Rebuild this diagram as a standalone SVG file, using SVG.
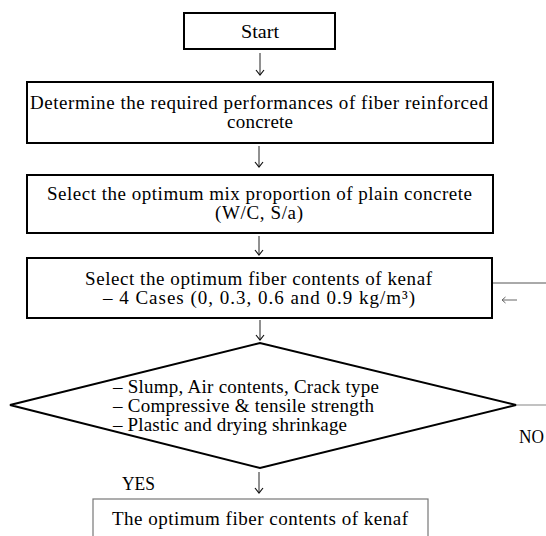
<svg xmlns="http://www.w3.org/2000/svg" width="546" height="536" viewBox="0 0 546 536">
<style>
.box{fill:#fff;stroke:#000;stroke-width:2}
.fin{fill:#fff;stroke:#777;stroke-width:1.2}
.t{font-family:"Liberation Serif","Times New Roman",serif;font-size:19px;fill:#000}
.c{text-anchor:middle}
.arr{stroke:#222;stroke-width:1;fill:none;marker-end:url(#ah)}
.ln{stroke:#555;stroke-width:1;fill:none}
.gl{stroke:#999;stroke-width:1.2;fill:none}
</style>
<defs>
<marker id="ah" markerWidth="10" markerHeight="10" refX="8" refY="5" orient="auto" markerUnits="userSpaceOnUse" viewBox="0 0 10 10">
<path d="M3,1 L8,5 L3,9" fill="none" stroke="#111" stroke-width="1.2"/>
</marker>
<marker id="ahl" markerWidth="10" markerHeight="10" refX="8" refY="5" orient="auto" markerUnits="userSpaceOnUse" viewBox="0 0 10 10">
<path d="M4.5,2 L8,5 L4.5,8" fill="none" stroke="#666" stroke-width="1"/>
</marker>
</defs>
<rect width="546" height="536" fill="#fff"/>
<g id="connectors">
<line class="arr" x1="260" y1="53" x2="260" y2="75"/>
<line class="arr" x1="259" y1="146" x2="259" y2="167"/>
<line class="arr" x1="259" y1="236" x2="259" y2="255"/>
<line class="arr" x1="260" y1="320" x2="260" y2="340"/>
<line class="arr" x1="259" y1="472" x2="259" y2="493"/>
<line class="ln" x1="492" y1="283" x2="546" y2="283"/>
<line class="gl" x1="516" y1="405" x2="546" y2="405"/>
<line x1="517" y1="300" x2="502" y2="300" stroke="#666" stroke-width="1" marker-end="url(#ahl)"/>
</g>
<g id="start">
<rect class="box" x="184" y="13" width="151" height="36"/>
<text class="t c" x="260" y="38" textLength="38" lengthAdjust="spacingAndGlyphs">Start</text>
</g>
<g id="requirements">
<rect class="box" x="27" y="82" width="466" height="61"/>
<text class="t" x="30" y="109" textLength="458" lengthAdjust="spacing">Determine the required performances of fiber reinforced</text>
<text class="t c" x="260" y="128" textLength="66" lengthAdjust="spacing">concrete</text>
</g>
<g id="mix">
<rect class="box" x="27" y="175" width="466" height="58"/>
<text class="t" x="47" y="200" textLength="425" lengthAdjust="spacing">Select the optimum mix proportion of plain concrete</text>
<text class="t" x="215" y="219" textLength="88" lengthAdjust="spacing">(W/C, S/a)</text>
</g>
<g id="fiber">
<rect class="box" x="27" y="258" width="465" height="60"/>
<text class="t" x="85" y="285" textLength="347" lengthAdjust="spacing">Select the optimum fiber contents of kenaf</text>
<text class="t" x="103" y="304" textLength="312" lengthAdjust="spacing">–  4 Cases (0, 0.3, 0.6 and 0.9 kg/m³)</text>
</g>
<g id="decision">
<polygon class="box" points="10,405 260,343 516,405 260,468"/>
<text class="t" x="113" y="393" textLength="266" lengthAdjust="spacing">–  Slump, Air contents, Crack type</text>
<text class="t" x="113" y="412" textLength="261" lengthAdjust="spacing">–  Compressive &amp; tensile strength</text>
<text class="t" x="113" y="431" textLength="234" lengthAdjust="spacing">–  Plastic and drying shrinkage</text>
</g>
<g id="labels">
<text class="t" x="519" y="443" textLength="25" lengthAdjust="spacingAndGlyphs">NO</text>
<text class="t" x="122" y="490" textLength="33" lengthAdjust="spacingAndGlyphs">YES</text>
</g>
<g id="result">
<rect class="fin" x="93" y="499" width="335" height="45"/>
<text class="t" x="112" y="525" textLength="296" lengthAdjust="spacing">The optimum fiber contents of kenaf</text>
</g>
</svg>
